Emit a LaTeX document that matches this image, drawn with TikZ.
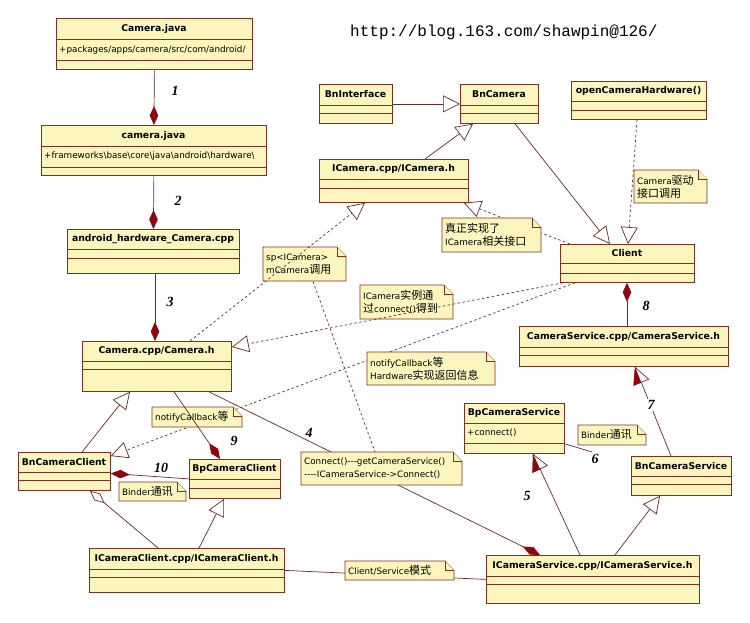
\documentclass[tikz,border=0pt]{standalone}
\usepackage{fontspec}
\setmainfont{DejaVu Sans}
\newfontfamily\cjk{Noto Sans CJK SC}[Scale=1.25]
\newfontfamily\urlfont{Liberation Mono}
\newfontfamily\numfont{Liberation Serif}
\usetikzlibrary{arrows.meta,calc}

\definecolor{clsfill}{RGB}{252,246,190}
\definecolor{clsline}{RGB}{128,48,32}
\definecolor{lnk}{RGB}{110,40,36}
\definecolor{dkred}{RGB}{140,8,12}

\newcommand\zh[1]{{\cjk #1}}
% class box: name, x1, y1, x2, y2, separators, title
\newcommand\umlclass[8]{%
  \node[cls, minimum width={#4-#2}, minimum height={#5-#3}, anchor=north west] (#1) at (#2,#3) {};
  \draw[clsline, line width=0.8pt] (#2,#6) -- (#4,#6) (#2,#7) -- (#4,#7);
  \node[clsname] at ({(#2+#4)/2},{(#3+#6)/2}) {#8};
}
% note with folded corner: name, x1, y1, x2, y2, text
\newcommand\umlnote[6]{%
  \filldraw[notebox] (#2,#3) -- ({#4-9},#3) -- (#4,{#3+9}) -- (#4,#5) -- (#2,#5) -- cycle;
  \draw[notebox] ({#4-9},#3) -- ({#4-9},{#3+9}) -- (#4,{#3+9});
  \node[minimum width={#4-#2}, minimum height={#5-#3}, inner sep=0pt, anchor=north west] (#1) at (#2,#3) {};
  \node[notetext] at ({#2+2},{(#3+#5)/2}) {#6};
}

\begin{document}
\begin{tikzpicture}[x=1pt, y=-1pt,
  cls/.style={draw=clsline, fill=clsfill, line width=0.8pt, inner sep=0pt},
  clsname/.style={font=\bfseries\fontsize{9.3}{11}\selectfont, inner sep=0pt},
  attr/.style={font=\fontsize{8.8}{11}\selectfont, anchor=west, inner sep=0pt},
  notebox/.style={draw=clsline, fill=clsfill, line width=0.7pt},
  notetext/.style={font=\fontsize{8.8}{13}\selectfont, align=left, anchor=west, inner sep=1pt},
  rel/.style={draw=lnk, line width=0.7pt},
  dep/.style={rel, dash pattern=on 2.5pt off 2.5pt},
  gen/.style={-{Triangle[open, length=17pt, width=17pt, fill=white]}},
  comp/.style={-{Diamond[length=19pt, width=8.5pt, fill=dkred, color=dkred]}},
  aggr/.style={-{Diamond[length=19pt, width=9pt, fill=white]}},
  num/.style={font=\numfont\bfseries\itshape\fontsize{14}{14}\selectfont, inner sep=1pt}]

\path[fill=white] (0,0) rectangle (750,622);

\node[font=\urlfont\fontsize{16}{16}\selectfont, anchor=base west, inner sep=0pt] (url) at (350,36) {http://blog.163.com/shawpin@126/};

% classes
\umlclass{camjava}{56}{18}{252}{69}{39}{60}{Camera.java}
\umlclass{camerajava}{41}{125}{266}{175}{146}{167}{camera.java}
\umlclass{jni}{67}{229}{239}{273}{249}{258}{android\_hardware\_Camera.cpp}
\umlclass{cameracpp}{82}{341}{231}{391}{361}{369}{Camera.cpp/Camera.h}
\umlclass{bnif}{319}{84}{392}{123}{105}{113}{BnInterface}
\umlclass{bncam}{460}{84}{538}{123}{105}{113}{BnCamera}
\umlclass{openhw}{571}{81}{706}{119}{101}{110}{openCameraHardware()}
\umlclass{icam}{319}{159}{468}{202}{179}{188}{ICamera.cpp/ICamera.h}
\umlclass{client}{560}{244}{694}{282}{263}{273}{Client}
\umlclass{camsvc}{519}{326}{728}{366}{347}{355}{CameraService.cpp/CameraService.h}
\umlclass{bpcs}{464}{403}{564}{453}{423}{443}{BpCameraService}
\umlclass{bncs}{631}{456}{731}{495}{476}{484}{BnCameraService}
\umlclass{icsvc}{486}{555}{699}{603}{576}{584}{ICameraService.cpp/ICameraService.h}
\umlclass{bncc}{18}{452}{110}{490}{472}{480}{BnCameraClient}
\umlclass{bpcc}{189}{459}{280}{498}{479}{488}{BpCameraClient}
\umlclass{iccl}{89}{548}{284}{592}{569}{577}{ICameraClient.cpp/ICameraClient.h}

\node[attr] at (59,50) {+packages/apps/camera/src/com/android/};
\node[attr] at (44,156) {+frameworks\textbackslash base\textbackslash core\textbackslash java\textbackslash android\textbackslash hardware\textbackslash};
\node[attr] at (467,433) {+connect()};

% composition
\draw[rel,comp] (camjava.south) -- (camerajava.north);
\draw[rel,comp] (camerajava.south) -- (jni.north);
\draw[rel,comp] ([xshift=88pt]jni.south west) -- ([xshift=73pt]cameracpp.north west);
\draw[rel,comp] ([xshift=127pt]cameracpp.south west) -- ([xshift=54pt]icsvc.north west);
\draw[rel,comp] (bpcc.west) -- ([yshift=-2pt]bncc.east);
\draw[rel,comp] ([xshift=108pt]camsvc.north west) -- ([xshift=67pt]client.south west);
\draw[rel,aggr] ([xshift=69pt]iccl.north west) -- ([xshift=72pt]bncc.south west);

% inheritance
\draw[rel,gen] (bnif.east) -- (bncam.west);
\draw[rel,gen] ([xshift=106pt]icam.north west) -- ([xshift=13pt]bncam.south west);
\draw[rel,gen] ([xshift=55pt]bncam.south west) -- ([xshift=50pt]client.north west);
\draw[rel,gen] ([xshift=64pt]bncc.north west) -- ([xshift=48pt]cameracpp.south west);
\draw[rel,gen] ([xshift=110pt]iccl.north west) -- ([xshift=35pt]bpcc.south west);
\draw[rel,gen] ([xshift=129pt]icsvc.north west) -- ([xshift=29pt]bncs.south west);

\coordinate (s5) at ([xshift=94pt]icsvc.north west);
\coordinate (t5) at ([xshift=69pt]bpcs.south west);
\draw[rel,gen] (s5) -- (t5);
\fill[dkred] (t5) -- ($(t5)!19pt!-26.57:(s5)$) -- ($(t5)!17pt!(s5)$) -- cycle;
\coordinate (s7) at ([xshift=40pt]bncs.north west);
\coordinate (t7) at ([xshift=116pt]camsvc.south west);
\draw[rel,gen] (s7) -- (t7);
\fill[dkred] (t7) -- ($(t7)!19pt!-26.57:(s7)$) -- ($(t7)!17pt!(s7)$) -- cycle;

% realisation
\draw[dep,gen] ([xshift=66pt]openhw.south west) -- ([xshift=68pt]client.north west);
\draw[dep,gen] ([xshift=10pt]client.north west) -- ([xshift=-5pt]icam.south east);
\draw[dep,gen] ([xshift=15pt]client.south west) -- ([yshift=-4pt]bncc.north east);

% plain links
\draw[rel] (iccl.east) -- (icsvc.west);
\coordinate (six) at (592,452);
\draw[rel] ([yshift=10pt]bpcs.south east) -- (six);

% notes
\umlnote{n1}{634}{170}{707}{203}{Camera\zh{驱动}\\\zh{接口调用}}
\umlnote{n2}{442}{218}{541}{252}{\zh{真正实现了}\\ICamera\zh{相关接口}}
\umlnote{n3}{263}{247}{346}{281}{sp<ICamera>\\mCamera\zh{调用}}
\umlnote{n4}{360}{285}{453}{319}{ICamera\zh{实例通}\\\zh{过}connect()\zh{得到}}
\umlnote{n5}{367}{352}{495}{385}{notifyCallback\zh{等}\\Hardware\zh{实现返回信息}}
\umlnote{n6}{152}{407}{242}{427}{notifyCallback\zh{等}}
\umlnote{n7}{119}{482}{186}{501}{Binder\zh{通讯}}
\umlnote{n8}{301}{452}{462}{485}{Connect()-{}-{}-getCameraService()\\-{}-{}-{}-ICameraService->Connect()}
\umlnote{n9}{345}{561}{454}{580}{Client/Service\zh{模式}}
\umlnote{n10}{578}{425}{646}{445}{Binder\zh{通讯}}

% lines over the notes
\draw[dep] ([xshift=50pt]n3.south west) -- ([xshift=74pt]n8.north west);
\draw[dep,gen] ([xshift=108pt]cameracpp.north west) -- ([xshift=46pt]icam.south west);
\draw[dep,gen] ([xshift=3pt]client.south west) -- ([yshift=-6pt]cameracpp.north east);
\draw[rel,comp] ([xshift=92pt]cameracpp.south west) -- ([xshift=31pt]bpcc.north west);

% numbers
\node[num] (lab1) at (175,91) {1};
\node[num] (lab2) at (178,201) {2};
\node[num] (lab3) at (170,302) {3};
\node[num] (lab4) at (309,433) {4};
\node[num] (lab5) at (527,496) {5};
\node[num] (lab6) at (595,459) {6};
\node[num, fill=white] (lab7) at (651,405) {7};
\node[num] (lab8) at (646,306) {8};
\node[num] (lab9) at (234,441) {9};
\node[num] (lab10) at (161,468) {10};

\end{tikzpicture}
\end{document}
